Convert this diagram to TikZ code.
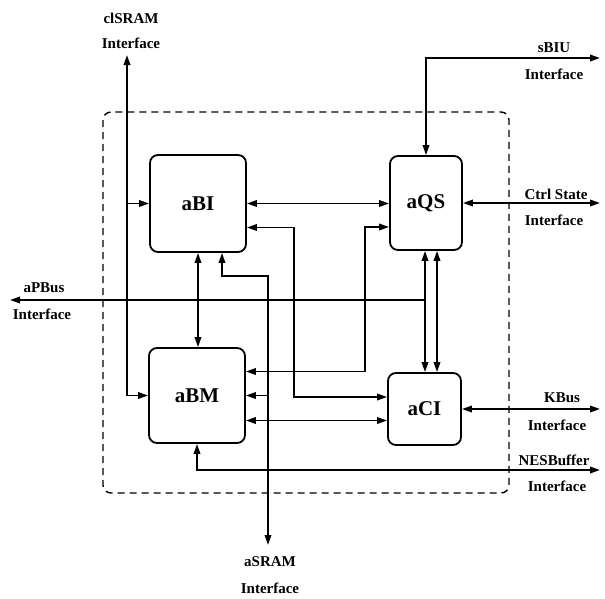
\documentclass[tikz,border=0pt]{standalone}
\usepackage{fontspec}
\setmainfont{Liberation Serif}
\usetikzlibrary{arrows.meta}

\begin{document}
\begin{tikzpicture}[x=1pt,y=-1pt,
   bloque/.style={draw,line width=1.8pt,rounded corners=8pt,inner sep=0pt,font=\bfseries\fontsize{21}{25}\selectfont},
   rotulo/.style={inner sep=0pt,font=\bfseries\fontsize{15}{18}\selectfont},
   enlace/.style={line width=1.8pt,-{Triangle[length=10pt,width=6.5pt]}},
   doble/.style={line width=1.8pt,{Triangle[length=10pt,width=6.5pt]}-{Triangle[length=10pt,width=6.5pt]}}]

  \useasboundingbox (0,0) rectangle (605,598);

  % contorno
  \draw[line width=1.4pt,dash pattern=on 7pt off 5pt,rounded corners=8pt] (103,112) rectangle (509,493);

  % --- bloques ---
  \node[bloque,minimum width=96pt,minimum height=97pt] (aBI) at (198,203.5) {aBI};
  \node[bloque,minimum width=72pt,minimum height=94pt] (aQS) at (426,203) {aQS};
  \node[bloque,minimum width=96pt,minimum height=95pt] (aBM) at (197,395.5) {aBM};
  \node[bloque,minimum width=73pt,minimum height=72pt] (aCI) at (424.5,409) {aCI};

  % --- extremos libres ---
  \coordinate (clTop) at (127,55);
  \coordinate (sBIUEnd) at (600,58);
  \coordinate (ctrlEnd) at (600,204);
  \coordinate (pBusEnd) at (10,300);
  \coordinate (kBusEnd) at (600,409);
  \coordinate (nesEnd) at (600,470);
  \coordinate (sramEnd) at (268,545);

  % --- rotulos ---
  \node[rotulo] (clSRAM) at (131,18) {clSRAM};
  \node[rotulo] (clSRAMi) at (131,43) {Interface};
  \node[rotulo] (sBIU) at (554,48) {sBIU};
  \node[rotulo] (sBIUi) at (554,74) {Interface};
  \node[rotulo] (ctrl) at (556,194) {Ctrl State};
  \node[rotulo] (ctrli) at (554,220) {Interface};
  \node[rotulo] (pBus) at (44,288) {aPBus};
  \node[rotulo] (pBusi) at (42,314) {Interface};
  \node[rotulo] (kBus) at (562,398) {KBus};
  \node[rotulo] (kBusi) at (557,425) {Interface};
  \node[rotulo] (nes) at (554,460) {NESBuffer};
  \node[rotulo] (nesi) at (557,486) {Interface};
  \node[rotulo] (sram) at (270,562) {aSRAM};
  \node[rotulo] (srami) at (270,588) {Interface};

  % --- clSRAM ---
  \draw[doble] (aBM.west) -| (clTop);
  \draw[enlace] (aBI.west -| clTop) -- (aBI.west);

  % --- sBIU y Ctrl State ---
  \draw[doble] (aQS.north) |- (sBIUEnd);
  \draw[doble] (aQS.east) -- (aQS.east -| ctrlEnd);

  % --- enlaces internos ---
  \draw[doble] (aBI.east) -- (aBI.east -| aQS.west);
  \draw[doble] ([yshift=-24pt]aBI.east) -- ++(47,0) |- ([yshift=12pt]aCI.west);
  \draw[doble] ([yshift=-24pt]aQS.west) -- ++(-24,0) |- ([yshift=24pt]aBM.east);
  \draw[doble] (aBI.south) -- (aBI.south |- aBM.north);
  \draw[doble] ([yshift=-25pt]aBM.east) -- ([yshift=-25pt]aBM.east -| aCI.west);
  \draw[doble] ([xshift=-1pt]aQS.south) -- ([xshift=-1pt]aQS.south |- aCI.north);
  \draw[doble] ([xshift=11pt]aQS.south) -- ([xshift=11pt]aQS.south |- aCI.north);

  % --- aSRAM ---
  \draw[doble] ([xshift=24pt]aBI.south) -- ++(0,23) -| (sramEnd);
  \draw[enlace] (aBM.east -| sramEnd) -- (aBM.east);

  % --- aPBus, KBus, NESBuffer ---
  \draw[enlace] ([xshift=-1pt]aQS.south |- pBusEnd) -- (pBusEnd);
  \draw[doble] (aCI.east) -- (aCI.east -| kBusEnd);
  \draw[doble] (aBM.south) |- (nesEnd);
\end{tikzpicture}
\end{document}
